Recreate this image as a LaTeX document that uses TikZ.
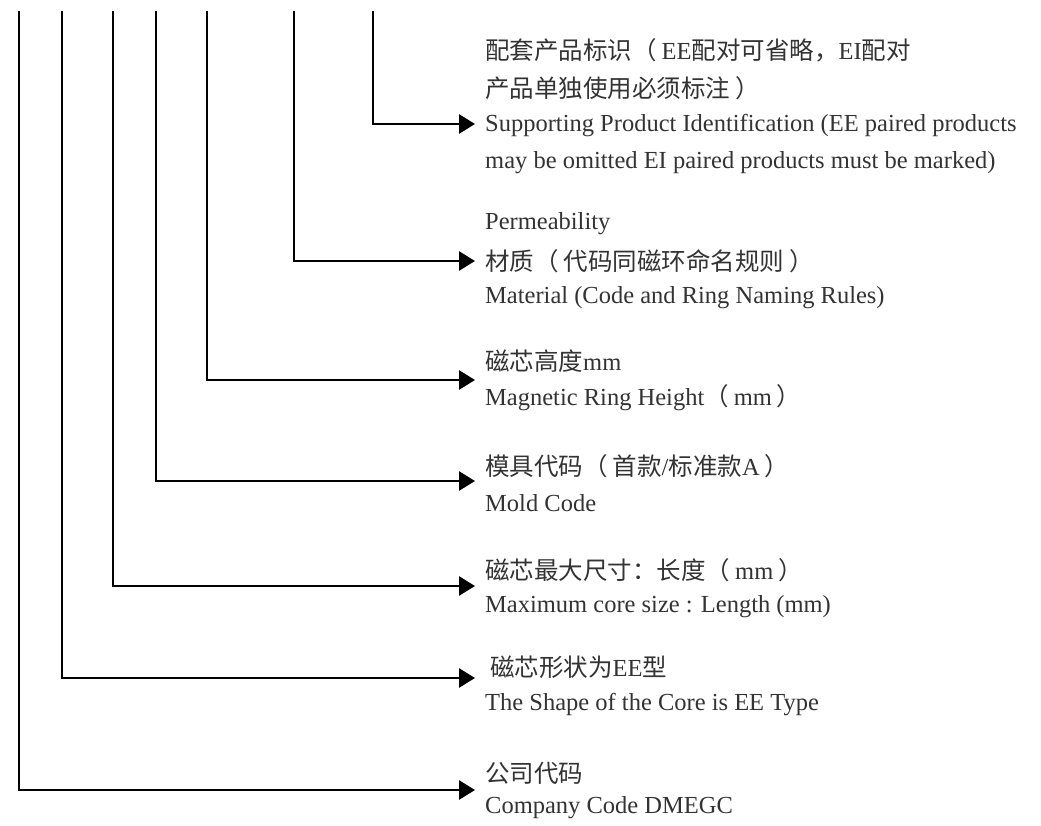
\documentclass[tikz,border=0pt]{standalone}
\usepackage{fontspec}
\setmainfont{Liberation Serif}
\newfontfamily\cjk{Noto Sans CJK SC}
\usetikzlibrary{arrows.meta}
\definecolor{txt}{HTML}{333333}
\newcommand\cj[1]{{\cjk\fontsize{24.5}{28}\selectfont #1}}
\newcommand\lp{\cj{（}\hspace{5pt}}
\newcommand\rp{\hspace{5pt}\cj{）}}
\begin{document}
\begin{tikzpicture}[x=1pt,y=-1pt,
  conn/.style={line width=2.8pt,line join=miter,-{Triangle[length=16pt,width=19pt]}},
  lbl/.style={anchor=west,inner sep=0pt,text=txt,font=\fontsize{24.5}{28}\selectfont}]
\useasboundingbox (0,0) rectangle (1041,826);
\fill[white] (0,0) rectangle (1041,826);
% tops of the vertical leaders
\coordinate (v1) at (19,11);
\coordinate (v2) at (62,11);
\coordinate (v3) at (113,11);
\coordinate (v4) at (156,11);
\coordinate (v5) at (207,11);
\coordinate (v6) at (294,11);
\coordinate (v7) at (373,11);
% arrow targets
\coordinate (a7) at (475,124);
\coordinate (a6) at (475,261);
\coordinate (a5) at (475,380);
\coordinate (a4) at (475,481);
\coordinate (a3) at (475,586);
\coordinate (a2) at (475,678);
\coordinate (a1) at (475,790);
% labels
\node[lbl] (t7a) at (485,50) {\cj{配套产品标识}\lp EE\cj{配对可省略，}EI\cj{配对}};
\node[lbl] (t7b) at (485,88) {\cj{产品单独使用必须标注}\rp};
\node[lbl] (t7c) at (485,126) {Supporting Product Identification (EE paired products};
\node[lbl] (t7d) at (485,163) {may be omitted EI paired products must be marked)};
\node[lbl] (t6a) at (485,224) {Permeability};
\node[lbl] (t6b) at (485,261) {\cj{材质}\lp\cj{代码同磁环命名规则}\rp};
\node[lbl] (t6c) at (485,298) {Material (Code and Ring Naming Rules)};
\node[lbl] (t5a) at (485,361) {\cj{磁芯高度}mm};
\node[lbl] (t5b) at (485,398) {Magnetic Ring Height\lp mm\rp};
\node[lbl] (t4a) at (485,466) {\cj{模具代码}\lp\cj{首款}/\cj{标准款}A\rp};
\node[lbl] (t4b) at (485,503) {Mold Code};
\node[lbl] (t3a) at (485,570) {\cj{磁芯最大尺寸：长度}\lp mm\rp};
\node[lbl] (t3b) at (485,607) {Maximum core size : Length (mm)};
\node[lbl] (t2a) at (490,667) {\cj{磁芯形状为}EE\cj{型}};
\node[lbl] (t2b) at (485,705) {The Shape of the Core is EE Type};
\node[lbl] (t1a) at (485,773) {\cj{公司代码}};
\node[lbl] (t1b) at (485,808) {Company Code DMEGC};
% connectors
\draw[conn] (v7) |- (a7);
\draw[conn] (v6) |- (a6);
\draw[conn] (v5) |- (a5);
\draw[conn] (v4) |- (a4);
\draw[conn] (v3) |- (a3);
\draw[conn] (v2) |- (a2);
\draw[conn] (v1) |- (a1);
\end{tikzpicture}
\end{document}
